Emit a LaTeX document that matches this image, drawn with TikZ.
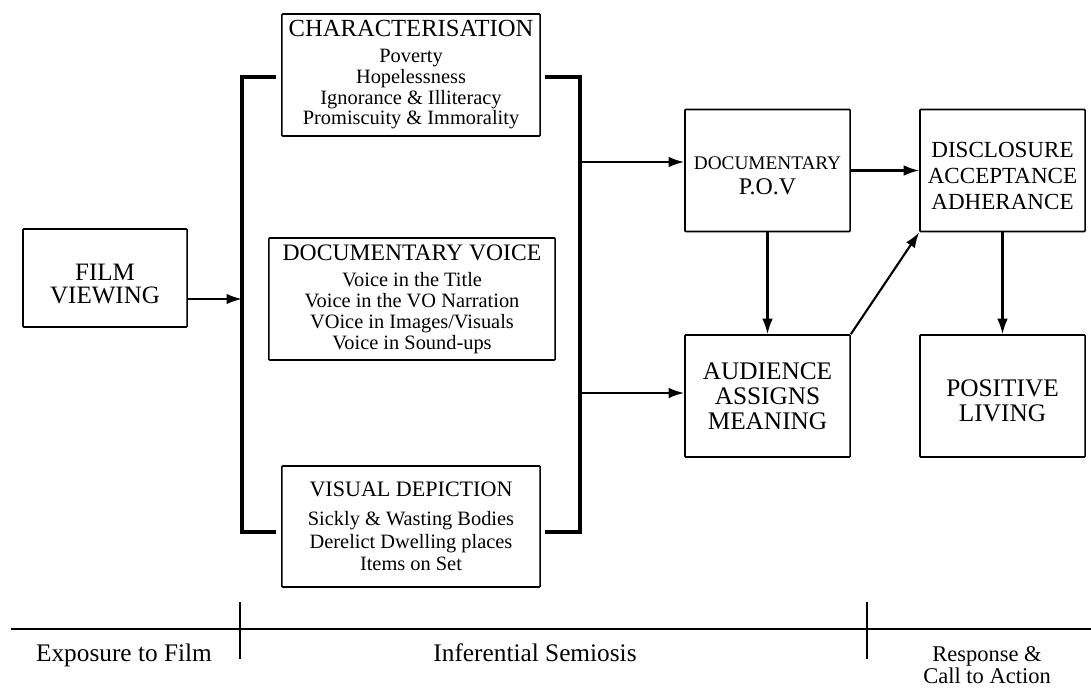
\documentclass[tikz,border=0pt]{standalone}
\usepackage{fontspec}
\setmainfont{Liberation Serif}
\usetikzlibrary{arrows.meta}
\newcommand\fsz[2]{\fontsize{#1}{#2}\selectfont}

\begin{document}
\begin{tikzpicture}[x=0.025cm,y=-0.025cm,
    box/.style={draw,line width=1.1pt,rounded corners=0.6pt,inner sep=1pt,align=center,
      minimum width=4.125cm,minimum height=3.05cm},
    list/.style={box,font=\fsz{14.5}{14.9}},
    brace/.style={line width=2.3pt},
    arr/.style={line width=1.5pt,-{Latex[length=11pt,width=7.5pt]}},
    axis/.style={line width=1.4pt},
    tick/.style={line width=1.1pt}]
    \useasboundingbox (0,0) rectangle (1091,689);
    \draw
    (105,278) node[box,minimum width=4.1cm,minimum height=2.45cm,font=\fsz{17.8}{16.3},text height=37pt] (Film) {FILM\\VIEWING}
    (411,75) node[list,minimum width=6.45cm] (Char)
      {{\fsz{17.5}{18}CHARACTERISATION}\\[3pt]Poverty\\Hopelessness\\Ignorance \& Illiteracy\\Promiscuity \& Immorality}
    (412,299) node[list,minimum width=7.15cm] (Voice)
      {{\fsz{16.8}{18}DOCUMENTARY VOICE}\\[3.5pt]Voice in the Title\\Voice in the VO Narration\\VOice in Images/Visuals\\Voice in Sound-ups}
    (411,526.5) node[list,minimum width=6.45cm,minimum height=3.025cm] (Vis)
      {{\fsz{15.7}{18}VISUAL DEPICTION}\\[5.5pt]Sickly \& Wasting Bodies\\[1.4pt]Derelict Dwelling places\\[1.4pt]Items on Set}
    (767.5,170.5) node[box,text height=35pt] (Pov) {{\fsz{13.7}{14}DOCUMENTARY}\\[6pt]{\fsz{17}{14}P.O.V}}
    (1002.5,170.5) node[box,font=\fsz{16.4}{18.4},text height=55pt] (Disc) {DISCLOSURE\\ACCEPTANCE\\ADHERANCE}
    (767.5,396) node[box,font=\fsz{18}{17.7}] (Aud) {AUDIENCE\\ASSIGNS\\MEANING}
    (1002.5,396) node[box,font=\fsz{18}{17.7},text height=36.5pt] (Pos) {POSITIVE\\LIVING};
    % brackets round the three inputs
    \coordinate (lb) at (242,299);
    \coordinate (ra) at (580,162);
    \coordinate (rb) at (580,393);
    \draw[brace] (276,77) -- (242,77) -- (242,532) -- (276,532);
    \draw[brace] (545,77) -- (580,77) -- (580,532) -- (545,532);
    \draw[arr] (Film.east |- lb) -- (lb);
    \draw[arr] (ra) -- (ra -| Pov.west);
    \draw[arr] (rb) -- (rb -| Aud.west);
    \draw[arr] (Pov.east) -- (Disc.west);
    \draw[arr] (Pov.south) -- (Aud.north);
    \draw[arr] (Aud.north east) -- (Disc.south west);
    \draw[arr] (Disc.south) -- (Pos.north);
    % stages
    \draw[axis] (11,629) -- (1091,629);
    \draw[tick] (240,602) -- (240,659);
    \draw[tick] (867,602) -- (867,659);
    \draw
    (124,655) node[font=\fsz{18}{18}] (Expo) {Exposure to Film}
    (535,653) node[font=\fsz{18}{18}] (Infer) {Inferential Semiosis}
    (987,665) node[font=\fsz{16}{14.5},align=center] (Resp) {Response \&\\Call to Action};
\end{tikzpicture}
\end{document}
